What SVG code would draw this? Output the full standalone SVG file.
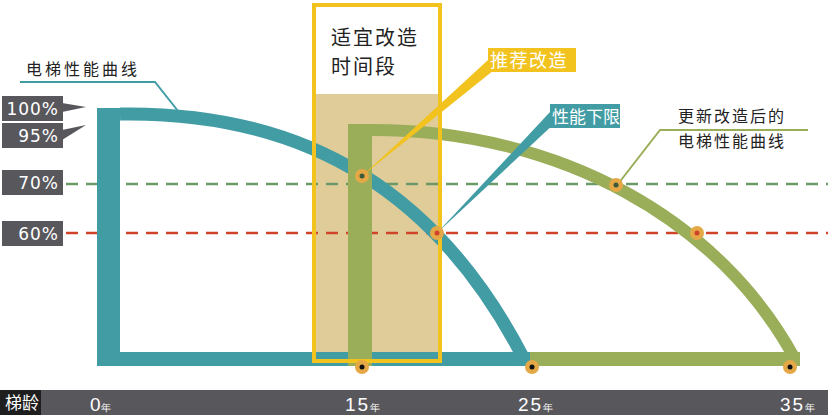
<svg xmlns="http://www.w3.org/2000/svg" width="828" height="416" viewBox="0 0 828 416">
<style>
.t{font-family:"Noto Sans CJK SC","Liberation Sans",sans-serif}
.lbl{fill:#58575c}
.w{fill:#fff}
.dot{fill:#e5a847}
</style>
<rect width="828" height="416" fill="#fff"/>
<g id="band"><rect x="315" y="94" width="124" height="266" fill="#dfcc98"/></g>
<g id="grid">
<line x1="66" y1="184" x2="828" y2="184" stroke="#6a9a6a" stroke-width="2.5" stroke-dasharray="12,8"/>
<line x1="66" y1="233" x2="828" y2="233" stroke="#d04328" stroke-width="2.5" stroke-dasharray="12,8"/>
</g>
<g id="teal-curve" fill="#429ca4">
<rect x="97" y="108" width="23" height="258"/>
<rect x="97" y="352" width="433" height="14"/>
<path d="M120,114 C310,111 440,196 524,359" fill="none" stroke="#429ca4" stroke-width="13"/>
</g>
<g id="green-curve" fill="#9aae5a">
<rect x="348" y="124" width="24" height="242"/>
<rect x="530" y="352" width="270" height="14"/>
<path d="M372,130 C560,130 720,220 795,359" fill="none" stroke="#9aae5a" stroke-width="12"/>
</g>
<g id="box"><rect x="314" y="5" width="126" height="356" fill="none" stroke="#f2c21e" stroke-width="4"/>
<text class="t" x="331" y="45" font-size="20" letter-spacing="2" fill="#222">适宜改造</text>
<text class="t" x="331" y="74" font-size="20" letter-spacing="2" fill="#222">时间段</text></g>
<g id="connectors">
<polyline points="20,82 155,82 178,111" fill="none" stroke="#429ca4" stroke-width="2"/>
<polyline points="808,130 660,130 618,184" fill="none" stroke="#9aae5a" stroke-width="2"/>
<polygon points="488,60 494,70 362,176" fill="#f2c21e"/>
<polygon points="550,112 556,122 437,233" fill="#429ca4"/>
</g>
<g id="points">
<circle class="dot" cx="362" cy="176" r="7"/><circle cx="362" cy="176" r="2.5" fill="#3d5a3a"/>
<circle class="dot" cx="437" cy="233" r="7"/><circle cx="437" cy="233" r="2.5" fill="#d04328"/>
<circle class="dot" cx="616" cy="185" r="7"/><circle cx="616" cy="185" r="2.5" fill="#3d5a3a"/>
<circle class="dot" cx="697" cy="233" r="7"/><circle cx="697" cy="233" r="2.5" fill="#d04328"/>
<circle class="dot" cx="362" cy="367" r="7"/><circle cx="362" cy="367" r="2.5" fill="#111"/>
<circle class="dot" cx="532" cy="367" r="7"/><circle cx="532" cy="367" r="2.5" fill="#111"/>
<circle class="dot" cx="790" cy="367" r="7"/><circle cx="790" cy="367" r="2.5" fill="#111"/>
</g>
<g id="labels">
<text class="t" x="26" y="75" font-size="16" letter-spacing="3" fill="#222">电梯性能曲线</text>
<text class="t" x="678" y="122" font-size="16" letter-spacing="2" fill="#222">更新改造后的</text>
<text class="t" x="678" y="147" font-size="16" letter-spacing="2" fill="#222">电梯性能曲线</text>
<rect x="488" y="48" width="88" height="24" fill="#f2c21e"/>
<text class="t w" x="490" y="67" font-size="18" letter-spacing="1.5">推荐改造</text>
<rect x="550" y="104" width="70" height="24" fill="#429ca4"/>
<text class="t w" x="552" y="123" font-size="17">性能下限</text>
</g>
<g id="ylabels" font-family="DejaVu Sans,sans-serif" font-size="17" fill="#fff" text-anchor="end">
<rect class="lbl" x="2" y="96" width="61" height="25"/><polygon class="lbl" points="62,103 86,107 62,112"/>
<text x="59" y="115" letter-spacing="1">100%</text>
<rect class="lbl" x="2" y="123" width="61" height="25"/><polygon class="lbl" points="62,130 86,125 62,140"/>
<text x="59" y="142" letter-spacing="1">95%</text>
<rect class="lbl" x="2" y="170" width="61" height="25"/>
<text x="59" y="189" letter-spacing="1">70%</text>
<rect class="lbl" x="2" y="221" width="61" height="25"/>
<text x="59" y="240" letter-spacing="1">60%</text>
</g>
<g id="axis">
<rect x="0" y="390" width="828" height="25" fill="#58575c"/>
<rect x="0" y="390" width="41" height="25" fill="#1e1e1e"/>
<text class="t w" x="5" y="409" font-size="17">梯龄</text>
<g font-family="Liberation Sans Narrow,Liberation Sans,sans-serif" fill="#fff" font-size="19">
<text x="90" y="411">0<tspan font-size="10">年</tspan></text>
<text x="345" y="411" letter-spacing="2">15<tspan font-size="10">年</tspan></text>
<text x="518" y="411" letter-spacing="2">25<tspan font-size="10">年</tspan></text>
<text x="780" y="411" letter-spacing="2">35<tspan font-size="10">年</tspan></text>
</g></g>
</svg>
